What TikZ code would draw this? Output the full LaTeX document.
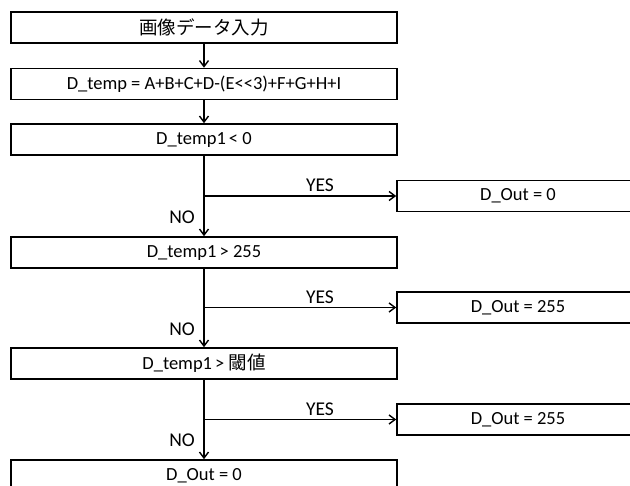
\documentclass[tikz,border=0pt]{standalone}
\usepackage{fontspec}
\setmainfont{Carlito}[Ligatures=NoCommon]
\newfontfamily\jp{Noto Sans CJK JP}[Scale=1.0]
\usetikzlibrary{arrows.meta}
\tikzset{
  txt/.style={font=\fontsize{18.5}{20}\selectfont},
  box/.style={draw, line width=1.6pt, minimum height=31pt, inner sep=0pt, txt},
  lbox/.style={box, minimum width=386pt},
  rbox/.style={box, minimum width=242pt},
  conn/.style={line width=1.6pt, -{Straight Barb[length=6pt,width=9pt,line width=1.4pt]}},
  lbl/.style={font=\fontsize{19.5}{21}\selectfont, inner sep=0pt}
}
\begin{document}
\begin{tikzpicture}[x=1pt,y=-1pt]
\useasboundingbox (0,0) rectangle (630,486);
\node[lbox] (b1) at (204,27.5) {\jp 画像データ入力};
\node[lbox] (b2) at (204,84) {D\_temp = A+B+C+D-(E{<}{<}3)+F+G+H+I};
\node[lbox] (b3) at (204,139.5) {D\_temp1\,< 0};
\node[lbox] (b4) at (204,252.5) {D\_temp1\,> 255};
\node[lbox] (b5) at (204,363.5) {D\_temp1\,> {\jp 閾値}};
\node[lbox] (b6) at (204,475.5) {D\_Out = 0};
\node[rbox] (r1) at (518,196) {D\_Out = 0};
\node[rbox] (r2) at (518,307.5) {D\_Out = 255};
\node[rbox] (r3) at (518,419.5) {D\_Out = 255};
\coordinate (j1) at (b3.south |- r1.west);
\coordinate (j2) at (b4.south |- r2.west);
\coordinate (j3) at (b5.south |- r3.west);
\draw[conn] (b1) -- (b2);
\draw[conn] (b2) -- (b3);
\draw[conn] (b3) -- (b4);
\draw[conn] (b4) -- (b5);
\draw[conn] (b5) -- (b6);
\draw[conn] (j1) -- (r1.west);
\draw[conn] (j2) -- (r2.west);
\draw[conn] (j3) -- (r3.west);
\node[lbl] (y1) at (320,185) {YES};
\node[lbl] (y2) at (320,297) {YES};
\node[lbl] (y3) at (320,409) {YES};
\node[lbl] (n1) at (182,217) {NO};
\node[lbl] (n2) at (182,329) {NO};
\node[lbl] (n3) at (182,440) {NO};
\end{tikzpicture}
\end{document}
